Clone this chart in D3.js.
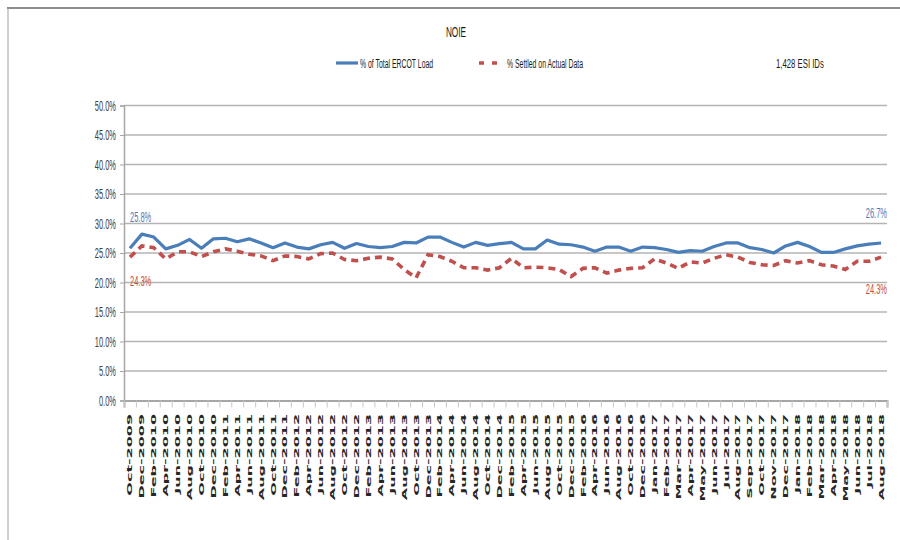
<!DOCTYPE html>
<html>
<head>
<meta charset="utf-8">
<script src="https://cdn.jsdelivr.net/npm/d3@7/dist/d3.min.js"></script>
<style>
body { margin: 0; background: #fff; }
text { font-family: "Liberation Sans", Arial, sans-serif; }
</style>
</head>
<body>
<svg width="900" height="540"></svg>
<script>
var months = ["Oct-2009","Dec-2009","Feb-2010","Apr-2010","Jun-2010","Aug-2010","Oct-2010","Dec-2010",
  "Feb-2011","Apr-2011","Jun-2011","Aug-2011","Oct-2011","Dec-2011","Feb-2012","Apr-2012","Jun-2012",
  "Aug-2012","Oct-2012","Dec-2012","Feb-2013","Apr-2013","Jun-2013","Aug-2013","Oct-2013","Dec-2013",
  "Feb-2014","Apr-2014","Jun-2014","Aug-2014","Oct-2014","Dec-2014","Feb-2015","Apr-2015","Jun-2015",
  "Aug-2015","Oct-2015","Dec-2015","Feb-2016","Apr-2016","Jun-2016","Aug-2016","Oct-2016","Dec-2016",
  "Jan-2017","Feb-2017","Mar-2017","Apr-2017","May-2017","Jun-2017","Jul-2017","Aug-2017","Sep-2017",
  "Oct-2017","Nov-2017","Dec-2017","Jan-2018","Feb-2018","Mar-2018","Apr-2018","May-2018","Jun-2018",
  "Jul-2018","Aug-2018"];
var ercotLoad = [25.8,28.2,27.7,25.7,26.3,27.3,25.8,27.4,27.5,26.9,27.4,26.7,25.9,26.7,26.0,25.7,
  26.4,26.8,25.8,26.6,26.1,25.9,26.1,26.8,26.7,27.7,27.7,26.8,26.0,26.8,26.3,26.6,
  26.8,25.7,25.7,27.2,26.5,26.4,26.0,25.3,26.0,26.0,25.3,26.0,25.9,25.6,25.1,25.4,
  25.3,26.1,26.7,26.7,25.9,25.6,25.0,26.2,26.8,26.1,25.1,25.1,25.7,26.2,26.5,26.7];
var settledActual = [24.3,26.2,25.9,24.0,25.2,25.2,24.4,25.2,25.7,25.3,24.8,24.5,23.7,24.5,24.4,24.0,
  24.9,25.0,23.9,23.7,24.1,24.3,24.0,22.2,20.8,24.7,24.4,23.6,22.5,22.5,22.1,22.5,
  24.1,22.5,22.6,22.5,22.2,21.0,22.4,22.5,21.6,22.1,22.4,22.5,24.0,23.3,22.4,23.5,
  23.3,24.1,24.7,24.3,23.4,23.0,22.9,23.7,23.3,23.7,23.0,22.8,22.2,23.6,23.6,24.3];
var yTicks = [0,5,10,15,20,25,30,35,40,45,50];

var blue = "#4a7ebb", red = "#c0504d";
var svg = d3.select("svg");

// squeeze text horizontally, the source picture is very condensed
function squeeze(sel, k) {
  sel.each(function () {
    var w = this.getComputedTextLength();
    d3.select(this).attr("textLength", w * k).attr("lengthAdjust", "spacingAndGlyphs");
  });
}

// outer frame
svg.append("line").attr("x1", 7).attr("x2", 900).attr("y1", 8).attr("y2", 8)
  .attr("stroke", "#8c8c8c").attr("stroke-width", 2);
svg.append("line").attr("x1", 8).attr("x2", 8).attr("y1", 8).attr("y2", 540)
  .attr("stroke", "#a0a0a0").attr("stroke-width", 1);

var plotLeft = 124, plotRight = 887, plotTop = 105.5, plotBottom = 400.5;
var x = d3.scaleBand().domain(months).range([plotLeft, plotRight]);
var xi = d3.scaleLinear().domain([0, months.length]).range([plotLeft, plotRight]);
var y = d3.scaleLinear().domain([0, 50]).range([plotBottom, plotTop]);

// gridlines
svg.append("g").selectAll("line").data(yTicks.slice(1)).enter().append("line")
  .attr("x1", plotLeft).attr("x2", plotRight)
  .attr("y1", function (d) { return y(d); }).attr("y2", function (d) { return y(d); })
  .attr("stroke", "#b4b4b4").attr("stroke-width", 1.5);

// y axis
var ya = svg.append("g").attr("transform", "translate(" + plotLeft + ",0)")
  .call(d3.axisLeft(y).tickValues(yTicks).tickSize(4).tickPadding(4)
    .tickFormat(function (d) { return d.toFixed(1) + "%"; }));
ya.select(".domain").attr("stroke", "#a6a6a6").attr("stroke-width", 1.5);
ya.selectAll(".tick line").attr("stroke", "#a6a6a6");
ya.selectAll("text").attr("font-size", 15).attr("fill", "#404040")
  .style("font-family", "'Liberation Sans', Arial, sans-serif");
squeeze(ya.selectAll("text"), 0.5);

// x axis with ticks on category boundaries
var xa = svg.append("g").attr("transform", "translate(0," + plotBottom + ")")
  .call(d3.axisBottom(xi).tickValues(d3.range(months.length + 1)).tickSize(7).tickFormat(""));
xa.select(".domain").attr("stroke", "#a6a6a6").attr("stroke-width", 2);
xa.selectAll(".tick line").attr("stroke", "#c8c8c8");

svg.append("g").selectAll("g").data(months).enter().append("g")
  .attr("transform", function (d) { return "translate(" + (x(d) + x.bandwidth() / 2) + ",414) scale(0.5,1)"; })
  .append("text")
  .attr("transform", "rotate(-90) scale(1.14,1)")
  .attr("text-anchor", "end")
  .attr("dy", "0.36em")
  .attr("font-size", 14)
  .attr("font-weight", "bold")
  .attr("fill", "#262626")
  .style("font-family", "'DejaVu Sans', sans-serif")
  .text(function (d) { return d; });

// lines
var cx = function (d, i) { return x(months[i]) + x.bandwidth() / 2; };
var line = d3.line().x(cx).y(function (d) { return y(d); });

svg.append("path").datum(ercotLoad).attr("d", line)
  .attr("fill", "none").attr("stroke", blue).attr("stroke-width", 3.2)
  .attr("stroke-linejoin", "round");
svg.append("path").datum(settledActual).attr("d", line)
  .attr("fill", "none").attr("stroke", red).attr("stroke-width", 3.6)
  .attr("stroke-dasharray", "7,5");

// end value labels
var n = months.length - 1;
var labels = [
  { v: ercotLoad[0], i: 0, dy: -26, anchor: "start", c: blue, dx: 0 },
  { v: settledActual[0], i: 0, dy: 29, anchor: "start", c: red, dx: 0 },
  { v: ercotLoad[n], i: n, dy: -25, anchor: "end", c: blue, dx: 6 },
  { v: settledActual[n], i: n, dy: 37, anchor: "end", c: red, dx: 6 }
];
var lt = svg.append("g").selectAll("text").data(labels).enter().append("text")
  .attr("x", function (d) { return cx(null, d.i) + d.dx; })
  .attr("y", function (d) { return y(d.v) + d.dy; })
  .attr("text-anchor", function (d) { return d.anchor; })
  .attr("fill", function (d) { return d.c; })
  .attr("font-size", 15)
  .text(function (d) { return d.v.toFixed(1) + "%"; });
squeeze(lt, 0.5);

// title, legend, note
var title = svg.append("text").attr("x", 456).attr("y", 37).attr("text-anchor", "middle")
  .attr("font-size", 15).attr("fill", "#1a1a1a").text("NOIE");
squeeze(title, 0.55);

svg.append("line").attr("x1", 336).attr("x2", 358).attr("y1", 63).attr("y2", 63)
  .attr("stroke", blue).attr("stroke-width", 3.2);
svg.append("line").attr("x1", 479).attr("x2", 502).attr("y1", 63).attr("y2", 63)
  .attr("stroke", red).attr("stroke-width", 3.6).attr("stroke-dasharray", "5,8");
var leg = svg.append("g").attr("font-size", 12.5).attr("fill", "#1a1a1a");
leg.append("text").attr("x", 360).attr("y", 68).text("% of Total ERCOT Load");
leg.append("text").attr("x", 507).attr("y", 68).text("% Settled on Actual Data");
squeeze(leg.selectAll("text"), 0.55);
var note = leg.append("text").attr("x", 776).attr("y", 68).text("1,428 ESI IDs");
squeeze(note, 0.62);
</script>
</body>
</html>
